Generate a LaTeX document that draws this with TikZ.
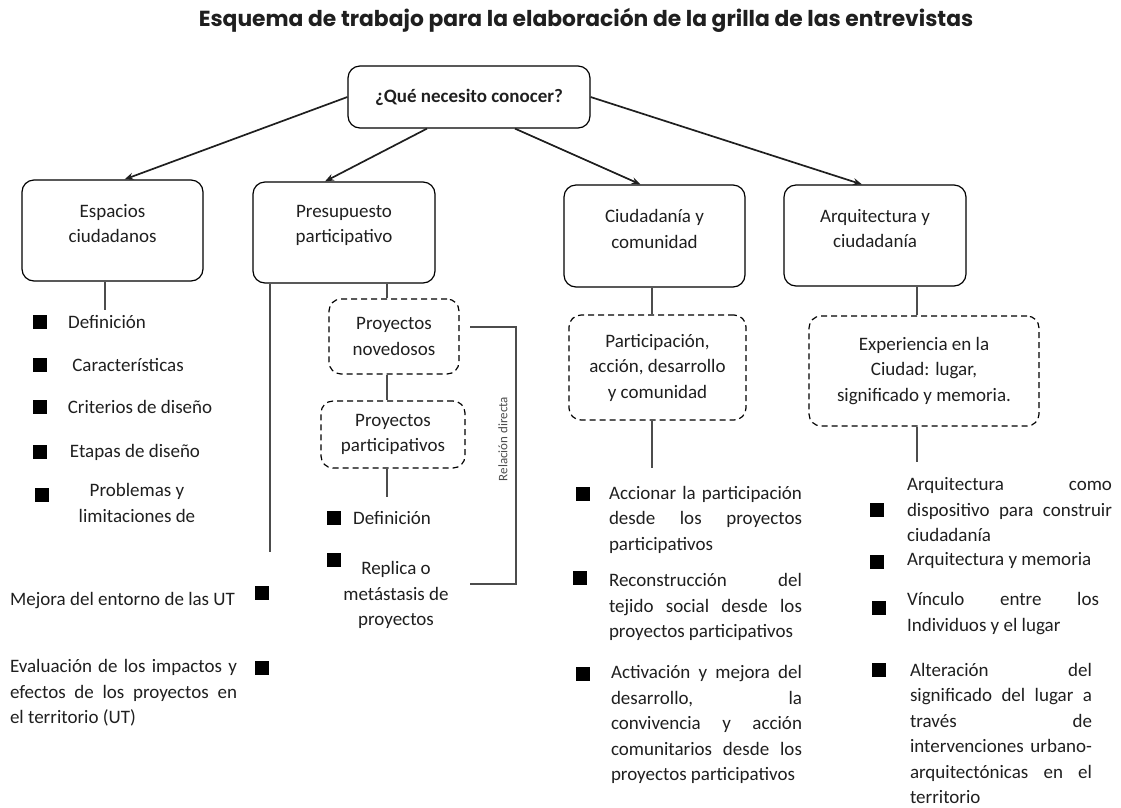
\documentclass[tikz,border=0pt]{standalone}
\usepackage{fontspec}
\setmainfont{Carlito}
\newfontfamily\titlefont{Poppins}
\usetikzlibrary{arrows.meta}

\begin{document}
\begin{tikzpicture}[x=1pt, y=-1pt, >={Stealth[length=9pt, width=7pt]},
    every node/.style={font=\fontsize{19}{25.5}\selectfont, text=black!88},
    box/.style={draw, rounded corners=12pt, line width=1.2pt, align=center},
    dbox/.style={draw, dash pattern=on 6pt off 4pt, rounded corners=12pt, line width=1.2pt, align=center},
    tlabel/.style={align=center, yshift=7pt},
    sq/.style={fill=black, minimum size=14pt, inner sep=0pt},
    stem/.style={draw=black!70, line width=1.2pt},
    item/.style={inner sep=0pt, align=justify}]
    \useasboundingbox (0,0) rectangle (1121,807);

    % Title
    \node (title) at (586,20) {\titlefont\bfseries\fontsize{21.8}{24}\selectfont Esquema de trabajo para la elaboración de la grilla de las entrevistas};

    % Question
    \node[box, minimum width=242pt, minimum height=62pt, font=\bfseries\fontsize{19}{25.5}\selectfont] (q) at (469,97) {¿Qué necesito conocer?};

    % Topics
    \node[box, minimum width=181pt, minimum height=101pt, label={[tlabel]center:Espacios\\ciudadanos}] (esp) at (112.5,230.5) {};
    \node[box, minimum width=182pt, minimum height=101pt, label={[tlabel]center:Presupuesto\\participativo}] (pres) at (344,232.5) {};
    \node[box, minimum width=181pt, minimum height=102pt, label={[tlabel]center:Ciudadanía y\\comunidad}] (ciud) at (654.5,236) {};
    \node[box, minimum width=182pt, minimum height=101pt, label={[tlabel]center:Arquitectura y\\ciudadanía}] (arq) at (875,235.5) {};

    % Arrows
    \draw[->, line width=1.7pt, black!88] (q.west) -- ([xshift=12pt]esp.north);
    \draw[->, line width=1.7pt, black!88] ([xshift=-42pt]q.south) -- ([xshift=-19pt]pres.north);
    \draw[->, line width=1.7pt, black!88] ([xshift=46pt]q.south) -- ([xshift=-14pt]ciud.north);
    \draw[->, line width=1.7pt, black!88] (q.east) -- ([xshift=-13pt]arq.north);

    % Espacios ciudadanos
    \coordinate (e0) at (105,310);
    \draw[stem] (esp.south -| e0) -- (e0);
    \foreach \txt/\x/\y [count=\i] in {Definición/107/322, Características/128/365, Criterios de diseño/140/407, Etapas de diseño/135/452} {
        \node[sq] (es\i) at (40,\y) {};
        \node (et\i) at (\x,\y) {\txt};
    }
    \node[sq] (es5) at (42,495) {};
    \node[align=center] (et5) at (137,503) {Problemas y\\limitaciones de};

    % Presupuesto participativo
    \coordinate (p0) at (270,552);
    \draw[stem] (pres.south -| p0) -- (p0);
    \node[sq] (ps1) at (262,593) {};
    \node[anchor=west, inner sep=0pt] (pt1) at (10,601) {Mejora del entorno de las UT};
    \node[sq] (ps2) at (262,668) {};
    \node[item, text width=227pt] (pt2) at (123.5,693) {Evaluación de los impactos y\linebreak efectos de los proyectos en\linebreak el territorio (UT)};

    \node[dbox, minimum width=130pt, minimum height=75pt] (nov) at (394,336.5) {Proyectos\\novedosos};
    \node[dbox, minimum width=144pt, minimum height=67pt] (part) at (393,434.5) {Proyectos\\participativos};
    \coordinate (s1) at (387,497);
    \draw[stem] (pres.south -| s1) -- (nov.north -| s1);
    \draw[stem] (nov.south -| s1) -- (part.north -| s1);
    \draw[stem] (part.south -| s1) -- (s1);
    \node[sq] (ns1) at (334,518) {};
    \node[anchor=west, inner sep=0pt] (nt1) at (353,518) {Definición};
    \node[sq] (ns2) at (334,560) {};
    \node[align=center] (nt2) at (396,595) {Replica o\\metástasis de\\proyectos};

    % Relacion directa
    \coordinate (r1) at (470,327);
    \coordinate (r2) at (470,584);
    \draw[stem] (r1) -- ++(46,0) |- (r2);
    \node[rotate=90, font=\fontsize{13}{15}\selectfont, text=black!70] (rel) at (503,439) {Relación directa};

    % Ciudadania y comunidad
    \node[dbox, minimum width=177pt, minimum height=105pt] (pacd) at (657.5,367.5) {Participación,\\acción, desarrollo\\y comunidad};
    \coordinate (c0) at (652,468);
    \draw[stem] (ciud.south -| c0) -- (pacd.north -| c0);
    \draw[stem] (pacd.south -| c0) -- (c0);
    \node[sq] (cs1) at (583,494) {};
    \node[item, text width=193pt] (ct1) at (705.5,519.5) {Accionar la participación\linebreak desde los proyectos\linebreak participativos};
    \node[sq] (cs2) at (580,578) {};
    \node[item, text width=193pt] (ct2) at (705.5,607) {Reconstrucción del\linebreak tejido social desde los\linebreak proyectos participativos};
    \node[sq] (cs3) at (583,674) {};
    \node[item, text width=191pt] (ct3) at (706.5,724.5) {Activación y mejora del\linebreak desarrollo, la\linebreak convivencia y acción\linebreak comunitarios desde los\linebreak proyectos participativos};

    % Arquitectura y ciudadania
    \node[dbox, minimum width=230pt, minimum height=110pt] (expe) at (924,371) {Experiencia en la\\Ciudad: lugar,\\significado y memoria.};
    \coordinate (a0) at (917,462);
    \draw[stem] (arq.south -| a0) -- (expe.north -| a0);
    \draw[stem] (expe.south -| a0) -- (a0);
    \node[sq] (as1) at (877,510) {};
    \node[item, text width=205pt] (at1) at (1009.5,510) {Arquitectura como\linebreak dispositivo para construir\linebreak ciudadanía};
    \node[sq] (as2) at (877,562) {};
    \node[anchor=west, inner sep=0pt] (at2) at (907,560) {Arquitectura y memoria};
    \node[sq] (as3) at (879,608) {};
    \node[item, text width=192pt] (at3) at (1003,613.5) {Vínculo entre los\linebreak Individuos y el lugar};
    \node[sq] (as4) at (879,670) {};
    \node[item, text width=182pt] (at4) at (1001,733.5) {Alteración del\linebreak significado del lugar a\linebreak través de\linebreak intervenciones urbano-\linebreak arquitectónicas en el\linebreak territorio};
\end{tikzpicture}
\end{document}
